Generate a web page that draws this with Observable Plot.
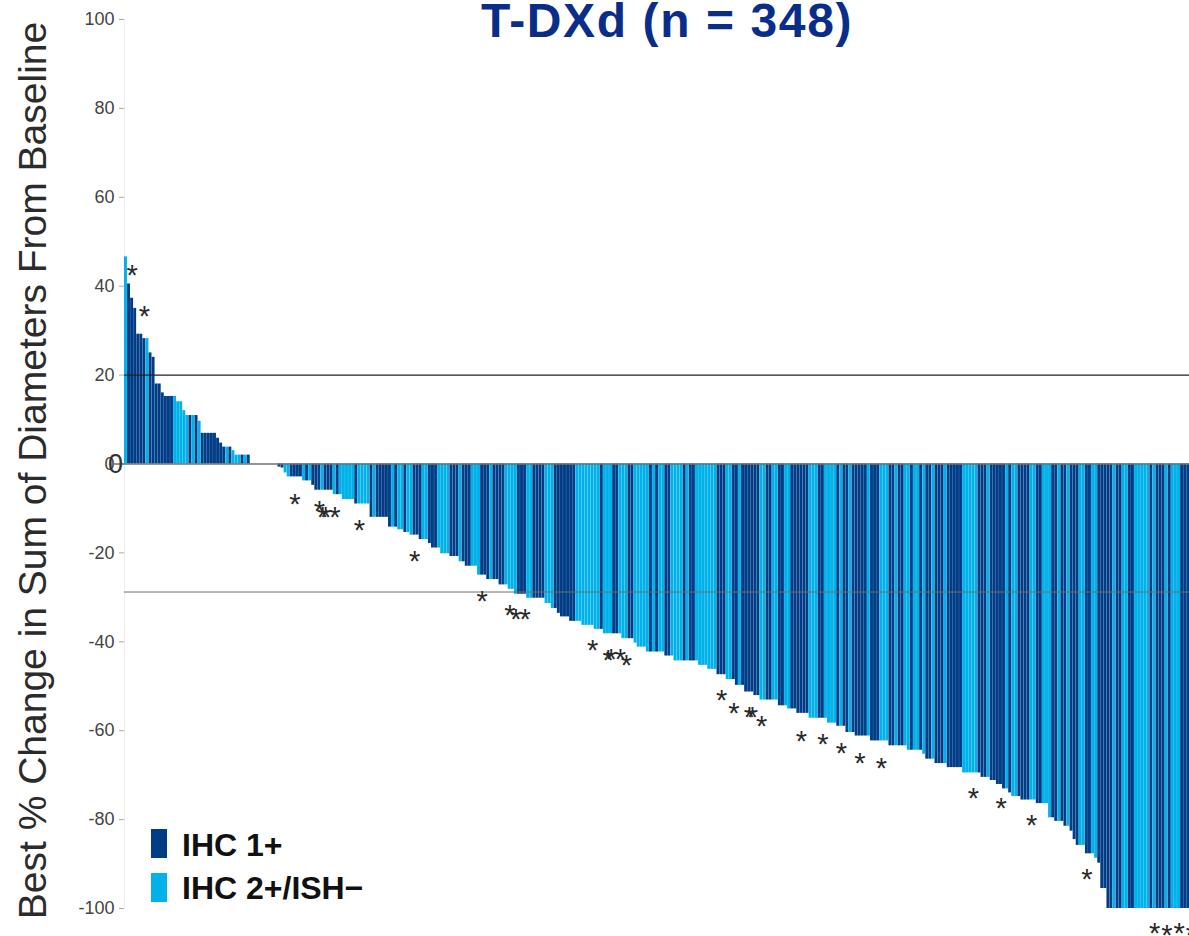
<!DOCTYPE html>
<html>
<head>
<meta charset="utf-8">
<script src="https://cdn.jsdelivr.net/npm/d3@7"></script>
<script src="https://cdn.jsdelivr.net/npm/@observablehq/plot@0.6"></script>
<style>
  html, body { margin: 0; padding: 0; background: #fff; overflow: hidden; width: 1189px; height: 936px; }
  #wrap { position: relative; width: 1189px; height: 936px; overflow: hidden; font-family: "Liberation Sans", Arial, sans-serif; }
  #chart { position: absolute; left: 0; top: 0; }
  #chart svg { max-width: none !important; display: block; }
  .title { position: absolute; left: 667px; top: -2px; transform: translateX(-50%); white-space: nowrap;
           font: bold 48px/46px "Liberation Sans", Arial, sans-serif; letter-spacing: 1.6px; color: #0b2d8a; }
  .ylab { position: absolute; left: -468.5px; top: 450.5px; width: 1000px; height: 39px; text-align: center;
          font: 39px/39px "Liberation Sans", Arial, sans-serif; color: #2b2b2b; transform: rotate(-90deg); white-space: nowrap; }
  .legsw { position: absolute; left: 150.7px; width: 16.6px; height: 29px; }
  .legtx { position: absolute; left: 182px; font: bold 32px/32px "Liberation Sans", Arial, sans-serif; color: #111; white-space: nowrap; }
</style>
</head>
<body>
<div id="wrap">
  <div id="chart"></div>
</div>
<script>
// ---- data ----
const titleText = "T-DXd (n = 348)";
const yLabel = "Best % Change in Sum of Diameters From Baseline";
const groups = ["IHC 1+", "IHC 2+/ISH\u2212"];
const groupColors = ["#003d86", "#00b1ea"];
const yTicks = [100, 80, 60, 40, 20, 0, -20, -40, -60, -80, -100];
const refLines = [20, -28.8];

// best % change per patient, sorted (348 patients)
const bestChange = [
  46.6, 40.5, 37.3, 35, 29.2, 29.2, 28.2, 28.2, 25, 24,
  18, 18, 16, 15.2, 15.2, 15.2, 15.2, 14, 14, 12,
  10.9, 10.9, 10.9, 10.9, 9.6, 6.9, 6.9, 6.9, 6.9, 6.9,
  5.8, 4.7, 3.8, 3.8, 3.8, 3, 2, 2, 2, 2,
  2, 0, 0, 0, 0, 0, 0, 0, 0, 0,
  -0.7, -0.9, -2, -2.9, -2.9, -2.9, -2.9, -2.9, -3.8, -3.8,
  -3.8, -4.8, -5.9, -5.9, -5.9, -5.9, -5.9, -5.9, -6.9, -6.9,
  -6.9, -8, -8, -8, -8, -9, -9, -9, -9, -9,
  -12, -12, -12, -12, -12, -12, -14.2, -14.2, -14.2, -14.8,
  -14.8, -15.4, -15.4, -16, -16, -16, -17, -17, -17, -17.9,
  -18.9, -18.9, -18.9, -20.2, -20.2, -20.2, -20.8, -20.8, -20.8, -22,
  -22, -23, -23, -23, -23, -25, -25, -25, -26, -26,
  -26, -26, -27.2, -27.2, -27.2, -28.2, -28.2, -29.3, -29.3, -29.3,
  -29.3, -30.2, -30.2, -30.2, -30.2, -30.2, -30.2, -31.4, -31.4, -32.5,
  -32.5, -33.6, -34.4, -34.4, -34.4, -35.4, -35.4, -35.4, -35.4, -36.3,
  -36.3, -36.3, -36.3, -37.2, -37.2, -37.2, -38.2, -38.2, -38.2, -38.2,
  -38.2, -38.2, -39.3, -39.3, -39.3, -39.3, -40.3, -41.2, -41.2, -41.2,
  -42.3, -42.3, -42.3, -42.3, -42.3, -42.3, -43.2, -43.2, -43.2, -44.3,
  -44.3, -44.3, -44.3, -44.3, -44.3, -44.3, -44.3, -45.3, -45.3, -45.3,
  -46.2, -46.2, -46.2, -47.4, -47.4, -47.4, -48.5, -48.5, -48.5, -49.8,
  -49.8, -49.8, -51.3, -51.3, -51.3, -52.1, -52.1, -53.1, -53.1, -53.1,
  -53.1, -53.1, -53.1, -54.4, -54.4, -54.4, -55.1, -55.1, -55.1, -56.1,
  -56.1, -56.1, -56.1, -57.2, -57.2, -57.2, -57.2, -57.2, -57.2, -58.3,
  -58.3, -58.3, -59, -59, -59, -60.4, -60.4, -60.4, -61.2, -61.2,
  -61.2, -61.2, -61.2, -62.3, -62.3, -62.3, -62.3, -62.3, -62.3, -63.4,
  -63.4, -63.4, -63.4, -63.4, -63.4, -64.4, -64.4, -64.4, -64.4, -64.4,
  -65.3, -66.4, -66.4, -66.4, -67.4, -67.4, -67.4, -67.4, -68.3, -68.3,
  -68.3, -68.3, -68.3, -69.5, -69.5, -69.5, -69.5, -69.5, -69.5, -70.5,
  -70.5, -70.5, -71.2, -71.2, -72.1, -72.1, -73.1, -73.1, -74, -74.8,
  -74.8, -74.8, -75.6, -75.6, -75.6, -75.6, -75.6, -76.4, -76.4, -76.4,
  -76.4, -79.6, -79.6, -80.4, -80.4, -80.4, -81.5, -81.5, -82.6, -84.5,
  -85.8, -85.8, -85.8, -87.7, -87.7, -87.7, -88.7, -89.8, -95.5, -95.5,
  -100, -100, -100, -100, -100, -100, -100, -100, -100, -100,
  -100, -100, -100, -100, -100, -100, -100, -100, -100, -100,
  -100, -100, -100, -100, -100, -100, -100, -100
];

// D = IHC 1+, L = IHC 2+/ISH−, per patient in the same order
const ihcCodes =
  "LDDDDDDLDD" + "DDDDDDLLLL" + "LDLDLDDDDD" + "DDDLDLLLDL" + "DDDDDDDDDD" +
  "DDLLDDDDLD" + "LDDDLDDDLD" + "LLLLLDLLLL" + "DLDDDDDLDL" + "LDLLDDDLLD" +
  "DDLLLLDDDL" + "DDDLLLDDDL" + "DDDDLLLLDD" + "DLLDDDDLLL" + "DDDDDDDLLL" +
  "LLLLLDLLLD" + "DLLLDDLLLL" + "LDLDLLDDLL" + "LLDLDDLLLL" + "LLLDDDLLDD" +
  "LDDDDDDLLD" + "DLLDDLLDDD" + "DDDLLLDDLL" + "LLDLDDLDDD" + "DDLDDDLLLD" +
  "DLDDLLDLLD" + "LDDLDDDLDD" + "DDDLLLLLDD" + "DLDDDDDLDL" + "LDDDDLLDDL" +
  "LLDDLDDLDD" + "DLLDDLLDDD" + "DDLDDLLDDL" + "LLLLDLDDDL" + "DLLLDDDD";

// asterisk markers: patient position and where the mark sits (% change)
const starPatient = [2, 6, 55, 63, 64, 65, 68, 76, 94, 116, 125, 127, 130, 152, 157, 158, 161, 163,
  194, 198, 203, 204, 207, 220, 227, 233, 239, 246, 276, 285, 295, 313, 335, 339, 343, 347];
const starY = [43.9, 34.8, -7.5, -9.2, -10.5, -10.6, -10.5, -13.5, -20.4, -29.5, -32.5, -33.5, -33.4, -40.4, -42.7, -42.5, -42.5, -43.7,
  -51.6, -54.6, -55.5, -55.5, -57.6, -60.8, -61.5, -63.6, -65.8, -67, -73.8, -75.9, -79.8, -91.9, -104, -104.6, -104, -104.6];

// ---- build ----
const bars = bestChange.map((v, i) => ({i, v, g: ihcCodes[i] === "D" ? groups[0] : groups[1]}));
const stars = starPatient.map((p, k) => ({i: p, v: starY[k]}));

const chart = Plot.plot({
  width: 1200,
  height: 936,
  marginLeft: 124,
  marginRight: 7.6,
  marginTop: 19,
  marginBottom: 28,
  style: {fontFamily: "'Liberation Sans', Arial, sans-serif", background: "white", overflow: "visible"},
  x: {type: "band", domain: d3.range(bestChange.length), padding: 0, round: false, axis: null},
  y: {domain: [-100, 100], axis: null},
  color: {domain: groups, range: groupColors},
  marks: [
    Plot.ruleX([0], {x: d => d, dx: -1.535, y1: -100, y2: 100, stroke: "#ececec"}),
    Plot.axisY({ticks: yTicks, tickSize: 5, tickPadding: 5, fontSize: 18, fill: "#444", stroke: "#aaa",
                label: null, tickFormat: d => String(d)}),
    Plot.barY(bars, {x: "i", y: "v", fill: "g", insetRight: 0.15}),
    Plot.ruleY([0], {stroke: "#707070", strokeWidth: 1.6, insetLeft: -12}),
    Plot.ruleY([refLines[0]], {stroke: "#222", strokeWidth: 1.2}),
    Plot.ruleY([refLines[1]], {stroke: "#6f6f6f", strokeWidth: 1}),
    Plot.text([0], {y: d => d, frameAnchor: "left", dx: -16.5, text: d => String(d), fontSize: 27, fill: "#333"}),
    Plot.text(stars, {x: "i", y: "v", text: () => "*", fontSize: 29, fill: "#2a2a2a", dy: 7})
  ]
});
const wrap = document.getElementById("wrap");
document.getElementById("chart").appendChild(chart);

const t = document.createElement("div");
t.className = "title"; t.textContent = titleText; wrap.appendChild(t);

const yl = document.createElement("div");
yl.className = "ylab"; yl.textContent = yLabel; wrap.appendChild(yl);

const legTops = [829, 872.7];
const legTextTops = [828.9, 871.9];
groups.forEach((g, k) => {
  const sw = document.createElement("div");
  sw.className = "legsw"; sw.style.top = legTops[k] + "px"; sw.style.background = groupColors[k];
  wrap.appendChild(sw);
  const tx = document.createElement("div");
  tx.className = "legtx"; tx.style.top = legTextTops[k] + "px"; tx.textContent = g;
  wrap.appendChild(tx);
});
</script>
</body>
</html>
